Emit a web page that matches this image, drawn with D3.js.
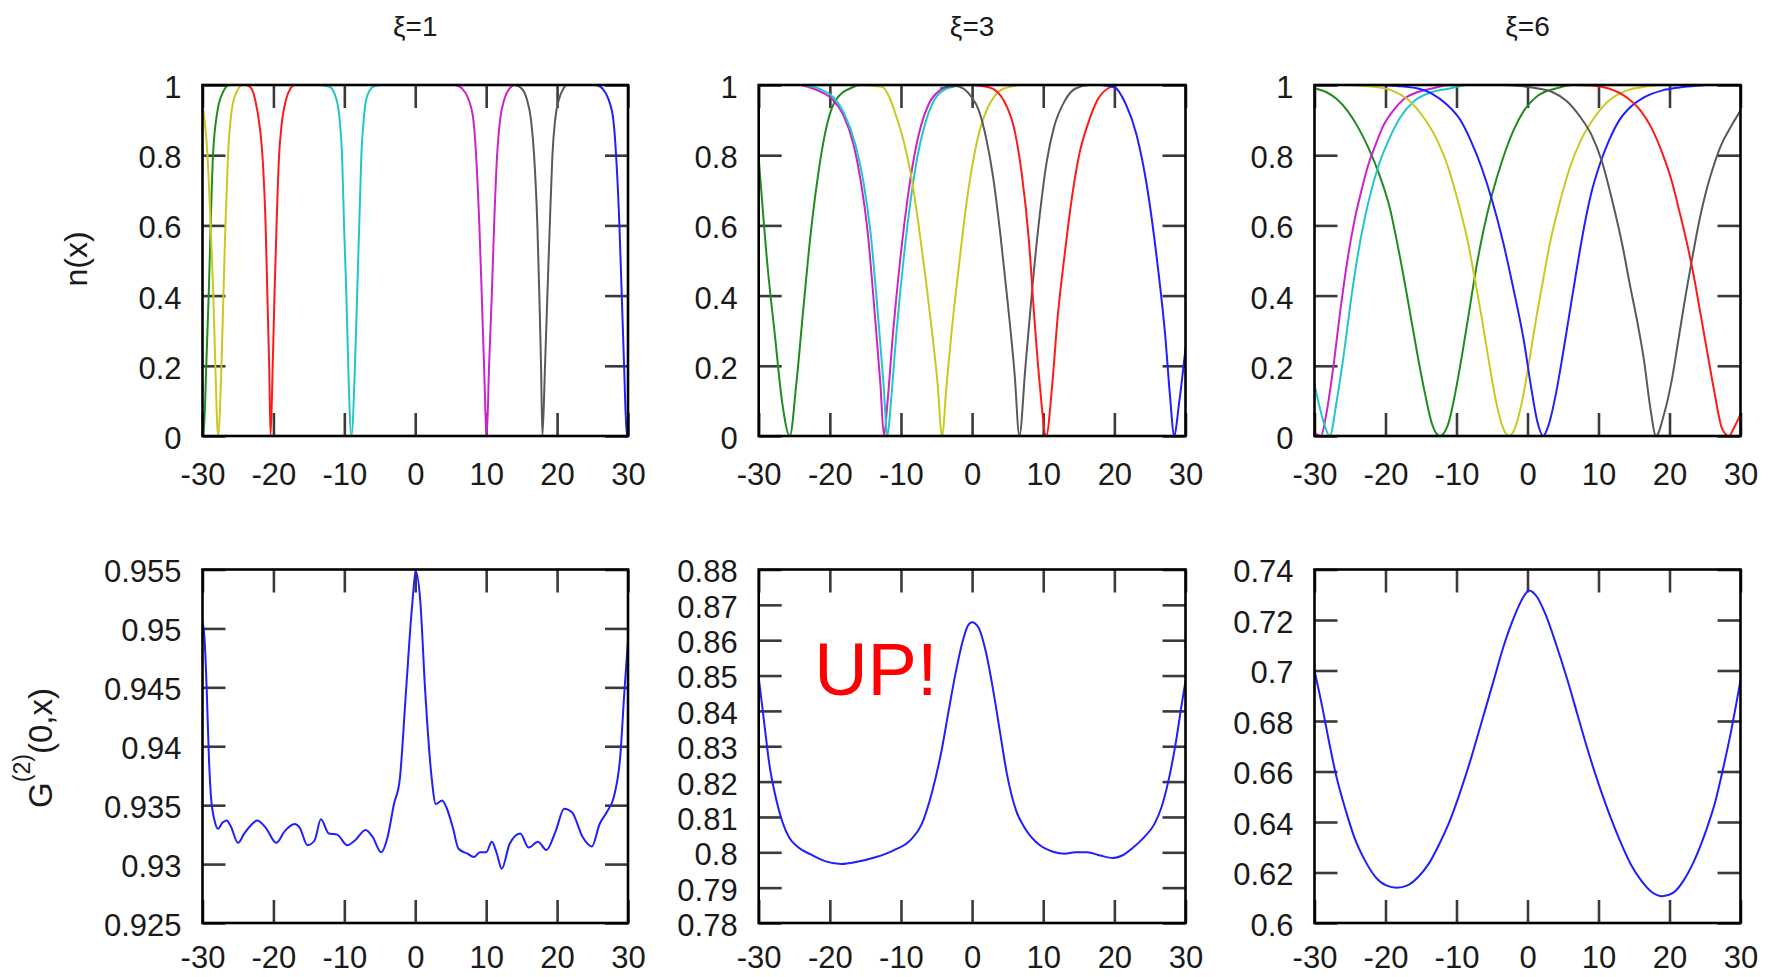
<!DOCTYPE html>
<html>
<head>
<meta charset="utf-8">
<script src="https://cdn.jsdelivr.net/npm/d3@7"></script>
<style>
  body { margin: 0; background: #fff; }
  svg { display: block; }
</style>
</head>
<body>
<svg id="chart" width="1772" height="977"></svg>
<script>
// ---------------- DATA ----------------
const xTicks = [-30, -20, -10, 0, 10, 20, 30];
const nTicks = [0, 0.2, 0.4, 0.6, 0.8, 1];
const g2TicksXi1 = [0.925, 0.93, 0.935, 0.94, 0.945, 0.95, 0.955];
const g2TicksXi3 = [0.78, 0.79, 0.8, 0.81, 0.82, 0.83, 0.84, 0.85, 0.86, 0.87, 0.88];
const g2TicksXi6 = [0.6, 0.62, 0.64, 0.66, 0.68, 0.7, 0.72, 0.74];
const panelTitles = ["ξ=1", "ξ=3", "ξ=6"];
const yLabelTop = "n(x)";
const annotationText = "UP!";

// n(x) curves, xi = 1
const nXi1Green = [[-30,0.03],[-29.85,0],[-29.47,0.2],[-29.13,0.4],[-28.85,0.6],[-28.52,0.8],[-27.9,0.925],[-27.1,0.98],[-26.2,1],[-25.5,1]];
const nXi1Yellow = [[-30,0.944],[-29.3,0.8],[-28.85,0.6],[-28.47,0.4],[-28.19,0.2],[-27.8,0],[-27.33,0.2],[-27.05,0.4],[-26.77,0.6],[-26.4,0.8],[-25.9,0.925],[-25.2,0.98],[-24.3,1],[-23.5,1]];
const nXi1Red = [[-23.8,1],[-23.1,0.99],[-22.6,0.96],[-21.9,0.876],[-21.55,0.8],[-21.1,0.6],[-20.85,0.4],[-20.6,0.2],[-20.4,0],[-20.1,0.2],[-19.85,0.4],[-19.56,0.6],[-19.2,0.8],[-18.9,0.876],[-18.2,0.96],[-17.6,0.99],[-17.0,1],[-16.6,1]];
const nXi1Cyan = [[-13.6,1],[-12.1,0.995],[-11.13,0.96],[-10.65,0.9],[-10.32,0.8],[-10.04,0.6],[-9.71,0.4],[-9.45,0.2],[-9.0,0],[-8.5,0.2],[-8.2,0.4],[-7.9,0.6],[-7.6,0.8],[-7.27,0.9],[-6.9,0.96],[-5.95,0.995],[-5.0,1]];
const nXi1Magenta = [[5.6,1],[6.6,0.99],[7.49,0.96],[8.2,0.9],[8.58,0.8],[9.04,0.6],[9.38,0.4],[9.7,0.2],[10.08,0],[10.41,0.2],[10.79,0.4],[11.12,0.6],[11.54,0.8],[11.96,0.9],[12.57,0.96],[13.3,0.99],[13.84,1]];
const nXi1Gray = [[14.08,1],[15.0,0.99],[15.73,0.96],[16.33,0.9],[16.76,0.8],[17.22,0.6],[17.5,0.4],[17.74,0.2],[17.93,0],[18.3,0.2],[18.63,0.4],[18.97,0.6],[19.34,0.8],[19.72,0.9],[20.28,0.96],[20.9,0.99],[21.37,1],[22.07,1]];
const nXi1Blue = [[25.6,1],[26.4,0.99],[27.24,0.96],[27.94,0.9],[28.32,0.8],[28.79,0.6],[29.12,0.4],[29.45,0.2],[29.83,0],[30,0.05]];

// n(x) curves, xi = 3
const nXi3Green = [[-30,0.794],[-28.74,0.48],[-27.74,0.29],[-26.73,0.1],[-25.62,0],[-24.72,0.147],[-23.71,0.366],[-22.7,0.575],[-21.7,0.737],[-20.69,0.86],[-19.68,0.936],[-18.68,0.97],[-17.17,0.99],[-15.66,1],[-13.1,1]];
const nXi3Magenta = [[-24,1],[-21.19,0.98],[-19.68,0.96],[-18.17,0.917],[-16.66,0.83],[-15.66,0.727],[-14.65,0.575],[-13.64,0.337],[-12.89,0.147],[-12.39,0],[-11.88,0.1],[-11.13,0.29],[-10.12,0.5],[-9.11,0.67],[-8.11,0.8],[-7.1,0.89],[-6.09,0.946],[-4.58,0.984],[-2.57,1]];
const nXi3Cyan = [[-23.5,1],[-21,0.985],[-19.5,0.965],[-18.0,0.92],[-16.4,0.83],[-15.3,0.727],[-14.25,0.575],[-13.2,0.337],[-12.45,0.147],[-11.9,0],[-11.4,0.1],[-10.65,0.29],[-9.65,0.5],[-8.65,0.67],[-7.65,0.8],[-6.6,0.89],[-5.6,0.946],[-4.1,0.984],[-2,0.998],[-1.1,1]];
const nXi3Yellow = [[-16.4,1],[-12.64,0.995],[-11.63,0.965],[-10.62,0.908],[-9.62,0.84],[-8.61,0.746],[-7.6,0.613],[-6.6,0.46],[-5.59,0.29],[-4.84,0.147],[-4.23,0],[-3.58,0.147],[-2.82,0.31],[-1.82,0.49],[-0.81,0.66],[0.2,0.79],[1.2,0.88],[2.21,0.936],[3.22,0.97],[4.47,0.99],[7,1]];
const nXi3Gray = [[-4.5,0.99],[-2.3,0.997],[-0.06,0.965],[0.95,0.927],[1.96,0.85],[2.96,0.737],[3.97,0.575],[4.98,0.385],[5.98,0.176],[6.64,0],[7.49,0.195],[8.5,0.43],[9.51,0.63],[10.51,0.784],[11.52,0.88],[13.03,0.955],[14.54,0.99],[16.55,1],[19.07,1]];
const nXi3Red = [[-0.06,1],[2.46,0.993],[4.47,0.955],[5.98,0.87],[6.99,0.746],[7.99,0.556],[8.75,0.337],[9.51,0.147],[10.41,0],[11.27,0.147],[12.02,0.337],[13.03,0.52],[14.04,0.68],[15.04,0.8],[16.3,0.89],[17.56,0.955],[19.07,0.99],[20.58,1],[22.09,1]];
const nXi3Blue = [[18.06,1],[20.08,0.993],[21.59,0.946],[23.1,0.86],[24.61,0.708],[26.12,0.48],[27.13,0.29],[27.88,0.1],[28.38,0],[29.14,0.1],[30,0.25]];

// n(x) curves, xi = 6
const nXi6Green = [[-30,0.99],[-28.36,0.98],[-26.87,0.96],[-25.37,0.927],[-23.88,0.88],[-22.39,0.82],[-20.9,0.746],[-19.4,0.65],[-18.41,0.556],[-17.41,0.45],[-16.42,0.337],[-15.42,0.223],[-14.43,0.12],[-13.43,0.033],[-12.34,0],[-11.19,0.033],[-10.2,0.12],[-9.2,0.233],[-8.21,0.356],[-7.21,0.48],[-6.22,0.584],[-4.97,0.69],[-3.48,0.79],[-1.99,0.87],[-0.5,0.927],[1.49,0.97],[3.98,0.99],[6.47,1],[9.95,1]];
const nXi6Magenta = [[-30,0.01],[-29.1,0],[-28.36,0.06],[-27.36,0.195],[-26.37,0.356],[-25.37,0.5],[-24.38,0.613],[-23.38,0.7],[-22.39,0.775],[-21.39,0.83],[-20.4,0.88],[-18.91,0.927],[-17.41,0.96],[-15.42,0.98],[-13.43,0.99],[-10.95,1],[-8.46,1]];
const nXi6Cyan = [[-30,0.147],[-28.86,0.05],[-27.86,0],[-26.87,0.1],[-25.87,0.233],[-24.88,0.385],[-23.88,0.518],[-22.89,0.623],[-21.89,0.708],[-20.9,0.775],[-19.4,0.85],[-17.91,0.908],[-15.92,0.955],[-13.43,0.98],[-10.95,0.99],[-8.46,1],[-5.47,1]];
const nXi6Yellow = [[-26,1],[-21.6,0.995],[-19.1,0.984],[-16.64,0.955],[-14.65,0.908],[-12.66,0.84],[-11.17,0.765],[-9.68,0.66],[-8.43,0.556],[-7.44,0.45],[-6.44,0.337],[-5.45,0.214],[-4.45,0.1],[-3.46,0.024],[-2.6,0],[-1.74,0.024],[-0.75,0.1],[0.25,0.214],[1.24,0.337],[2.24,0.45],[3.23,0.556],[4.48,0.66],[5.97,0.765],[7.46,0.84],[9.45,0.908],[11.44,0.955],[13.93,0.984],[16.42,0.995],[18.9,1],[20,1]];
const nXi6Blue = [[-21.4,1],[-18.4,0.997],[-15.42,0.99],[-13.43,0.975],[-11.44,0.946],[-9.45,0.9],[-7.96,0.84],[-6.47,0.765],[-4.97,0.67],[-3.48,0.556],[-1.99,0.42],[-0.5,0.27],[0.5,0.14],[1.4,0.04],[2.2,0],[3.0,0.033],[4.0,0.12],[4.98,0.233],[5.97,0.356],[6.97,0.48],[7.96,0.594],[8.96,0.69],[10.2,0.775],[11.44,0.84],[12.94,0.9],[14.43,0.936],[16.42,0.965],[18.9,0.984],[21.4,0.993],[25.4,1]];
const nXi6Gray = [[-3.5,1],[-1,0.997],[1.49,0.99],[3.48,0.98],[5.47,0.955],[7.46,0.908],[8.96,0.86],[10.45,0.784],[11.94,0.67],[13.43,0.537],[14.43,0.43],[15.42,0.33],[16.42,0.214],[17.3,0.08],[18.1,0],[19.2,0.06],[20.3,0.157],[21.3,0.28],[22.3,0.404],[23.3,0.518],[24.3,0.623],[25.3,0.708],[26.3,0.775],[27.3,0.83],[28.61,0.88],[30,0.927]];
const nXi6Red = [[6.5,1],[9.45,0.998],[11.44,0.99],[13.93,0.965],[15.92,0.927],[17.41,0.88],[18.91,0.81],[20.4,0.72],[21.39,0.64],[22.39,0.556],[23.38,0.46],[24.38,0.347],[25.37,0.233],[26.37,0.12],[27.36,0.024],[28.36,0],[29.1,0.024],[30,0.062]];

// G2(0,x) curves
const g2Xi1 = [[-30,0.9505],[-29.7,0.949],[-29.4,0.9447],[-29.1,0.9391],[-28.8,0.9357],[-28.3,0.9337],[-27.8,0.933],[-27.2,0.9335],[-26.6,0.9337],[-26,0.9332],[-25,0.9318],[-24.1,0.9326],[-23,0.9334],[-22.3,0.9337],[-21.1,0.9331],[-19.6,0.9318],[-18.4,0.9328],[-17,0.9334],[-16.3,0.9331],[-15.2,0.9316],[-14.2,0.932],[-13.3,0.9338],[-12.2,0.9326],[-11,0.9325],[-9.6,0.9316],[-8.5,0.932],[-7,0.9329],[-6,0.9323],[-4.8,0.931],[-3.9,0.9323],[-3,0.9351],[-2.2,0.9371],[-1.3,0.9447],[-0.5,0.9515],[0.1,0.9548],[0.7,0.9524],[1.4,0.9447],[2.3,0.9374],[2.9,0.9351],[3.8,0.9354],[4.4,0.9348],[5.3,0.9331],[6.1,0.9313],[7.3,0.9309],[8.3,0.9306],[9.1,0.931],[10,0.931],[10.8,0.9319],[11.5,0.9309],[12.2,0.9296],[13.3,0.9317],[14.8,0.9326],[16,0.9314],[17.3,0.9319],[18.5,0.9312],[19.8,0.9328],[21,0.9347],[22.1,0.9344],[23.6,0.9323],[24.9,0.9315],[26,0.9334],[27.1,0.9345],[28,0.9357],[28.9,0.9391],[29.5,0.9447],[30,0.949]];
const g2Xi3 = [[-30,0.8495],[-29.2,0.8362],[-28.5,0.8249],[-27.7,0.8164],[-26.7,0.8088],[-25.7,0.8041],[-24.5,0.8015],[-22.7,0.7994],[-20.7,0.7975],[-18.4,0.7967],[-16.2,0.7973],[-13.6,0.7986],[-11.1,0.8005],[-8.6,0.8036],[-7.1,0.8079],[-5.6,0.8173],[-4.3,0.8287],[-3.3,0.84],[-2.3,0.8509],[-1.3,0.8599],[-0.6,0.8641],[0,0.8651],[0.9,0.8636],[1.9,0.857],[2.9,0.8466],[3.9,0.8343],[4.9,0.8221],[6.2,0.8117],[7.4,0.8069],[9.4,0.8022],[11.5,0.8001],[13,0.7996],[14.5,0.8],[16.2,0.8],[18,0.7991],[19.8,0.7984],[21.1,0.7991],[22.6,0.8013],[24.1,0.8041],[25.6,0.8079],[26.6,0.8126],[27.6,0.8202],[28.6,0.8306],[29.4,0.841],[30,0.8485]];
const g2Xi6 = [[-30,0.7],[-28.9,0.6855],[-27.9,0.671],[-26.9,0.6578],[-25.6,0.6446],[-24.4,0.634],[-22.9,0.6248],[-21.4,0.6182],[-19.9,0.6149],[-18.4,0.614],[-16.9,0.6149],[-15.4,0.6182],[-13.9,0.6235],[-12.4,0.6314],[-10.9,0.6407],[-9.4,0.6525],[-7.9,0.6657],[-6.4,0.6802],[-4.9,0.6947],[-3.4,0.7093],[-1.9,0.7211],[-0.6,0.729],[0.2,0.7317],[1.3,0.7293],[2.5,0.7225],[4,0.7106],[5.5,0.6974],[7,0.6829],[8.5,0.6684],[10,0.6552],[11.5,0.6433],[13,0.6327],[14.5,0.6235],[16,0.6169],[17.5,0.6123],[19,0.6106],[20.5,0.6119],[22,0.6169],[23.5,0.6248],[25,0.6354],[26.5,0.6486],[27.7,0.6631],[28.7,0.6763],[29.4,0.6868],[30,0.6961]];

// annotation anchor (data coordinates of the ξ=3 G2 panel)
const annotationPos = [-22.2, 0.8445];

// ---------------- STYLE / LAYOUT ----------------
const colors = { green: "#1f8c1f", yellow: "#c9c91f", red: "#ff1a1a", cyan: "#22c6c6",
                 magenta: "#cc22cc", gray: "#595959", blue: "#1f1fff" };
const colX = [[202.5, 628], [758.7, 1185.5], [1314.5, 1740.5]];
const rowY = [[85, 436], [569.5, 923]];
const rowLabelPad = [27, 23];
const FONT = "'Liberation Sans', Arial, Helvetica, sans-serif";

const svg = d3.select("#chart");
svg.append("rect").attr("width", 1772).attr("height", 977).attr("fill", "#fff");

function panel(ci, ri, yDomain, yTicks, series) {
  const [x0, x1] = colX[ci], [y0, y1] = rowY[ri];
  const x = d3.scaleLinear().domain([-30, 30]).range([x0, x1]);
  const y = d3.scaleLinear().domain(yDomain).range([y1, y0]);
  const g = svg.append("g");
  const clipId = "clip" + ci + "_" + ri;
  svg.append("clipPath").attr("id", clipId).append("rect")
    .attr("x", x0).attr("y", y0 - 1.5).attr("width", x1 - x0).attr("height", y1 - y0 + 3);

  const fmt = d => String(d);
  const styleAxis = (a) => {
    a.select(".domain").remove();
    a.selectAll(".tick line").attr("stroke", "#3a3a3a").attr("stroke-width", 2.6);
    a.attr("font-family", FONT).attr("font-size", 31).attr("color", "#1a1a1a");
    return a;
  };
  const bottom = g.append("g").attr("transform", `translate(0,${y1})`)
    .call(d3.axisBottom(x).tickValues(xTicks).tickSize(-23).tickPadding(rowLabelPad[ri]).tickFormat(fmt));
  styleAxis(bottom);
  const top = g.append("g").attr("transform", `translate(0,${y0})`)
    .call(d3.axisTop(x).tickValues(xTicks).tickSize(-23).tickFormat(""));
  styleAxis(top);
  const left = g.append("g").attr("transform", `translate(${x0},0)`)
    .call(d3.axisLeft(y).tickValues(yTicks).tickSize(-23).tickPadding(21).tickFormat(fmt));
  styleAxis(left);
  left.selectAll("text").attr("dy", "0.4em");
  const right = g.append("g").attr("transform", `translate(${x1},0)`)
    .call(d3.axisRight(y).tickValues(yTicks).tickSize(-23).tickFormat(""));
  styleAxis(right);

  const line = d3.line().x(d => x(d[0])).y(d => y(d[1])).curve(d3.curveMonotoneX);
  g.append("g").attr("clip-path", `url(#${clipId})`)
    .selectAll("path").data(series).join("path")
    .attr("d", d => line(d[1]))
    .attr("fill", "none")
    .attr("stroke", d => colors[d[0]])
    .attr("stroke-width", 2)
    .attr("stroke-linejoin", "round");

  g.append("rect").attr("x", x0).attr("y", y0).attr("width", x1 - x0).attr("height", y1 - y0)
    .attr("fill", "none").attr("stroke", "#000").attr("stroke-width", 2.6);
  return { x, y, g };
}

// top row
panel(0, 0, [0, 1], nTicks, [["green", nXi1Green], ["yellow", nXi1Yellow], ["red", nXi1Red], ["cyan", nXi1Cyan], ["magenta", nXi1Magenta], ["gray", nXi1Gray], ["blue", nXi1Blue]]);
panel(1, 0, [0, 1], nTicks, [["green", nXi3Green], ["magenta", nXi3Magenta], ["cyan", nXi3Cyan], ["yellow", nXi3Yellow], ["gray", nXi3Gray], ["red", nXi3Red], ["blue", nXi3Blue]]);
panel(2, 0, [0, 1], nTicks, [["green", nXi6Green], ["magenta", nXi6Magenta], ["cyan", nXi6Cyan], ["yellow", nXi6Yellow], ["blue", nXi6Blue], ["gray", nXi6Gray], ["red", nXi6Red]]);
// bottom row
panel(0, 1, [0.925, 0.955], g2TicksXi1, [["blue", g2Xi1]]);
const mid = panel(1, 1, [0.78, 0.88], g2TicksXi3, [["blue", g2Xi3]]);
panel(2, 1, [0.6, 0.74], g2TicksXi6, [["blue", g2Xi6]]);

// titles
panelTitles.forEach((t, i) => {
  svg.append("text").attr("x", (colX[i][0] + colX[i][1]) / 2).attr("y", 36)
    .attr("text-anchor", "middle").attr("font-family", FONT).attr("font-size", 28)
    .attr("fill", "#1a1a1a").text(t);
});

// y labels
svg.append("text").attr("transform", "translate(87,259) rotate(-90)")
  .attr("text-anchor", "middle").attr("font-family", FONT).attr("font-size", 32)
  .attr("fill", "#1a1a1a").text(yLabelTop);

const gl = svg.append("text").attr("transform", "translate(52,748) rotate(-90)")
  .attr("text-anchor", "middle").attr("font-family", FONT).attr("font-size", 33)
  .attr("fill", "#1a1a1a");
gl.append("tspan").text("G");
gl.append("tspan").attr("dy", -22).attr("font-size", 23).text("(2)");
gl.append("tspan").attr("dy", 22).text("(0,x)");

// annotation
svg.append("text").attr("x", mid.x(annotationPos[0])).attr("y", mid.y(annotationPos[1]))
  .attr("font-family", FONT).attr("font-size", 74).attr("fill", "#ff0000")
  .text(annotationText);
</script>
</body>
</html>
